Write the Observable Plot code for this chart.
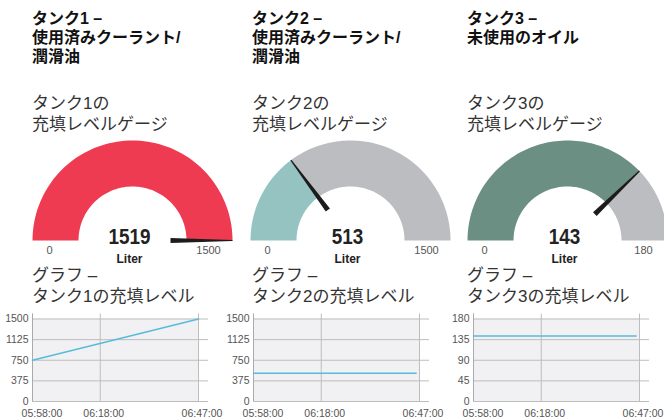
<!DOCTYPE html>
<html><head><meta charset="utf-8">
<script src="https://cdn.jsdelivr.net/npm/d3@7"></script>
<script src="https://cdn.jsdelivr.net/npm/@observablehq/plot@0.6"></script>
<style>
body{margin:0;background:#fff;width:664px;height:419px;overflow:hidden;position:relative;font-family:"Liberation Sans","Noto Sans CJK JP",sans-serif;}
.t{position:absolute;color:#111;font-weight:bold;font-size:16px;line-height:19px;white-space:nowrap;font-family:"Liberation Sans","Noto Sans CJK JP",sans-serif;}
.s{position:absolute;color:#333;font-size:17px;line-height:20.5px;white-space:nowrap;font-family:"Liberation Sans","Noto Sans CJK JP",sans-serif;}
.p{position:absolute}
</style></head><body>
<script>
// ---- data ----
const tankTitles = [["タンク1 –","使用済みクーラント/","潤滑油"],["タンク2 –","使用済みクーラント/","潤滑油"],["タンク3 –","未使用のオイル"]];
const gaugeTitles = [["タンク1の","充填レベルゲージ"],["タンク2の","充填レベルゲージ"],["タンク3の","充填レベルゲージ"]];
const chartTitles = [["グラフ –","タンク1の充填レベル"],["グラフ –","タンク2の充填レベル"],["グラフ –","タンク3の充填レベル"]];
const gaugeValues = [1519, 513, 143];
const needleReadings = [1500, 445, 136]; // needle position as drawn in the picture
const gaugeMin = [0, 0, 0];
const gaugeMax = [1500, 1500, 180];
const unitLabel = "Liter";
const gaugeColors = ["#ef3b51", "#95c3c2", "#6b8f83"];
const restColor = "#bcbdc1";
const tickTimes = ["05:58:00", "06:18:00", "06:47:00"];
const tank1Times = ["05:58:00", "06:47:00"];
const tank1Level = [750, 1500];
const tank2Times = ["05:58:00", "06:46:00"];
const tank2Level = [513, 513];
const tank3Times = ["05:58:00", "06:46:00"];
const tank3Level = [143, 143];
const yTicks = [[0, 375, 750, 1125, 1500], [0, 375, 750, 1125, 1500], [0, 45, 90, 135, 180]];

// ---- layout ----
const textLeft = [32, 252, 467];
const gaugeCx = [132, 350, 567];
const plotLeft = [32, 253, 473];
const levelTimes = [tank1Times, tank2Times, tank3Times];
const levels = [tank1Level, tank2Level, tank3Level];
const parseT = s => new Date(`2024-01-01T${s}`);

function addDiv(cls, lines, left, top) {
  const d = document.createElement("div");
  d.className = cls;
  d.style.left = left + "px";
  d.style.top = top + "px";
  d.innerHTML = lines.join("<br>");
  document.body.appendChild(d);
}
function place(el, left, top) {
  el.classList.add("p");
  el.style.left = left + "px";
  el.style.top = top + "px";
  document.body.appendChild(el);
}

function arcPoly(f0, f1, R, r) {
  const pts = [], n = 80;
  for (let k = 0; k <= n; k++) {
    const a = Math.PI * (1 - (f0 + (f1 - f0) * k / n));
    pts.push({x: R * Math.cos(a), y: R * Math.sin(a)});
  }
  for (let k = n; k >= 0; k--) {
    const a = Math.PI * (1 - (f0 + (f1 - f0) * k / n));
    pts.push({x: r * Math.cos(a), y: r * Math.sin(a)});
  }
  return pts;
}
function needlePoly(f) {
  const a = Math.PI * (1 - f);
  const ux = Math.cos(a), uy = Math.sin(a), px = -uy, py = ux;
  const r0 = 0.38, r1 = 1.0, w0 = 0.026, w1 = 0.006;
  return [
    {x: ux * r0 + px * w0, y: uy * r0 + py * w0},
    {x: ux * r1 + px * w1, y: uy * r1 + py * w1},
    {x: ux * r1 - px * w1, y: uy * r1 - py * w1},
    {x: ux * r0 - px * w0, y: uy * r0 - py * w0}
  ];
}

function gauge(i) {
  const f = Math.max(0, Math.min(1, (needleReadings[i] - gaugeMin[i]) / (gaugeMax[i] - gaugeMin[i])));
  const R = 1, r = 0.54;
  const svg = Plot.plot({
    width: 220, height: 135, margin: 0,
    style: {background: "transparent", overflow: "visible"},
    x: {domain: [-1.1, 1.1], range: [0, 220], axis: null},
    y: {domain: [0, 1], range: [105, 5], axis: null},
    marks: [
      Plot.line(arcPoly(0, f, R, r), {x: "x", y: "y", fill: gaugeColors[i], stroke: "none", curve: "linear"}),
      Plot.line(arcPoly(f, 1, R, r), {x: "x", y: "y", fill: restColor, stroke: "none", curve: "linear"}),
      Plot.line(needlePoly(f), {x: "x", y: "y", fill: "#1c1c1c", stroke: "none"}),
      Plot.text([String(gaugeMin[i])], {x: () => -0.83, y: () => -0.10, text: d => d, fill: "#555", fontSize: 11, fontFamily: "Liberation Sans, sans-serif"}),
      Plot.text([String(gaugeMax[i])], {x: () => 0.76, y: () => -0.10, text: d => d, fill: "#555", fontSize: 11, fontFamily: "Liberation Sans, sans-serif"}),
      Plot.text([String(gaugeValues[i])], {x: () => -0.03, y: () => -0.03, text: d => d, lineAnchor: "bottom", fill: "#222", fontSize: 22, fontWeight: "bold", fontFamily: "Liberation Sans, sans-serif", className: "gval"}),
      Plot.text([unitLabel], {x: () => -0.03, y: () => -0.22, text: d => d, lineAnchor: "bottom", fill: "#222", fontSize: 12, fontWeight: "bold", fontFamily: "Liberation Sans, sans-serif"})
    ]
  });
  // condense the big value like the reference's narrow face
  d3.select(svg).selectAll("g.gval text").each(function() {
    const s = this.textContent;
    this.setAttribute("textLength", (s.length * 10.5).toFixed(1));
    this.setAttribute("lengthAdjust", "spacingAndGlyphs");
  });
  return svg;
}

function chart(i) {
  const yMax = gaugeMax[i];
  const t0 = parseT(tickTimes[0]), t1 = parseT(tickTimes[tickTimes.length - 1]);
  const tExt = new Date(+t1 + (+t1 - +t0) * 10 / 166);
  const yTop = yMax * 5 / 83;
  const data = levels[i].map((v, j) => ({t: parseT(levelTimes[i][j]), v}));
  const ticks = tickTimes.map(s => ({t: parseT(s), label: s}));
  const font = "Liberation Sans, sans-serif";
  return Plot.plot({
    width: 228, height: 114, margin: 0,
    style: {background: "transparent", overflow: "visible"},
    x: {type: "time", domain: [t0, t1], range: [32, 198], axis: null},
    y: {domain: [0, yMax], range: [96, 13.5], axis: null},
    marks: [
      Plot.rect([{a: t0, b: t1, c: 0, d: yMax}], {x1: "a", x2: "b", y1: "c", y2: "d", fill: "#f1f1f3"}),
      Plot.ruleY(yTicks[i], {y: d => d, x1: () => t0, x2: () => tExt, stroke: "#bdbdbd", strokeWidth: 1}),
      Plot.ruleX(ticks, {x: "t", y1: () => 0, y2: () => yMax + yTop, stroke: "#bdbdbd", strokeWidth: 1}),
      Plot.ruleX([t0], {x: d => d, y1: () => 0, y2: () => yMax + yTop, stroke: "#aaa", strokeWidth: 1}),
      Plot.line(data, {x: "t", y: "v", stroke: "#55bcdb", strokeWidth: 1.6}),
      Plot.text(yTicks[i], {x: () => t0, y: d => d, text: d => String(d), textAnchor: "end", dx: -4, fill: "#555", fontSize: 10.5, fontFamily: font}),
      Plot.text(ticks.slice(0, 1), {x: "t", y: () => 0, text: "label", dy: 12, dx: 9.5, fill: "#555", fontSize: 10.5, fontFamily: font}),
      Plot.text(ticks.slice(1), {x: "t", y: () => 0, text: "label", dy: 12, dx: 3.5, fill: "#555", fontSize: 10.5, fontFamily: font})
    ]
  });
}

for (let i = 0; i < 3; i++) {
  addDiv("t", tankTitles[i], textLeft[i], 9);
  addDiv("s", gaugeTitles[i], textLeft[i], 94);
  place(gauge(i), gaugeCx[i] - 110, 135);
  addDiv("s", chartTitles[i], textLeft[i], 266);
  place(chart(i), plotLeft[i] - 32, 305);
}
</script>
</body></html>
